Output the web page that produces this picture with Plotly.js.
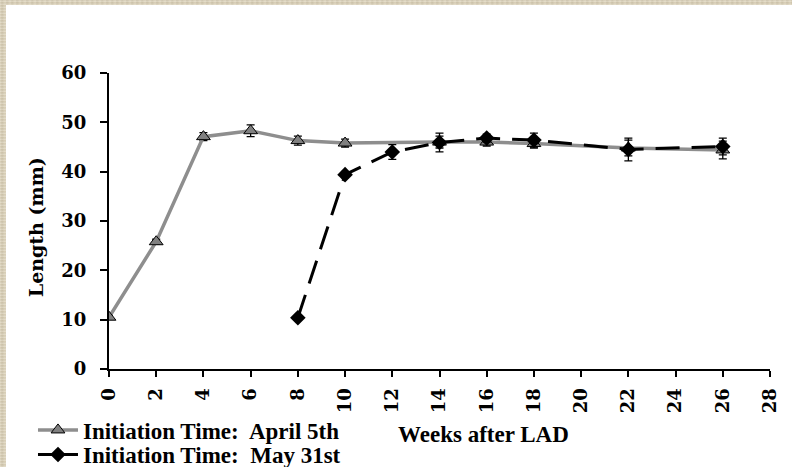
<!DOCTYPE html>
<html>
<head>
<meta charset="utf-8">
<script src="https://cdn.plot.ly/plotly-3.0.1.min.js"></script>
<style>
  html, body { margin: 0; padding: 0; width: 792px; height: 467px; overflow: hidden; }
  body {
    background-color: #dcd1b6;
    background-image:
      repeating-linear-gradient(0deg, rgba(255,255,255,0.18) 0px, rgba(255,255,255,0.18) 1px, rgba(0,0,0,0.05) 2px, rgba(0,0,0,0) 3px),
      repeating-linear-gradient(90deg, rgba(255,255,255,0.15) 0px, rgba(0,0,0,0.06) 2px, rgba(255,255,255,0.1) 5px);
  }
  #chart { position: absolute; left: 6px; top: 5px; width: 786px; height: 462px; background: #ffffff; }
</style>
</head>
<body>
<div id="chart"></div>
<script>
// ---- data ----
var aprilWeeks = [0, 2, 4, 6, 8, 10, 14, 16, 18, 22, 26];
var aprilLength = [10.5, 25.8, 47.1, 48.3, 46.3, 45.8, 46.0, 46.0, 45.7, 44.8, 44.4];
var aprilErr = [0.4, 0.5, 0.8, 1.2, 0.9, 0.8, 1.2, 0.8, 0.9, 1.6, 1.8];

var mayWeeks = [8, 10, 12, 14, 16, 18, 22, 26];
var mayLength = [10.4, 39.4, 44.0, 45.9, 46.8, 46.4, 44.5, 45.1];
var mayErr = [0.4, 0.6, 1.5, 1.9, 0.8, 1.4, 2.3, 1.7];

var seriesNames = ['Initiation Time:  April 5th', 'Initiation Time:  May 31st'];
var xTicks = [0, 2, 4, 6, 8, 10, 12, 14, 16, 18, 20, 22, 24, 26, 28];
var yTicks = [0, 10, 20, 30, 40, 50, 60];

var tickFont = { family: 'DejaVu Serif', size: 18, color: '#000000', weight: 700 };
var labelFont = { family: 'Liberation Serif', size: 23, color: '#000000', weight: 700 };

var traces = [
  {
    x: aprilWeeks, y: aprilLength, name: seriesNames[0], type: 'scatter', mode: 'lines+markers',
    line: { color: '#8e8e8e', width: 3.5 },
    marker: { symbol: 'triangle-up', size: 12, color: '#808080', line: { color: '#000000', width: 1 } },
    error_y: { type: 'data', array: aprilErr, visible: true, color: '#000000', thickness: 1.3, width: 4 },
    showlegend: true, legend: 'legend'
  },
  {
    x: mayWeeks, y: mayLength, name: seriesNames[1], type: 'scatter', mode: 'lines+markers',
    line: { color: '#000000', width: 3, dash: '24px,12px' },
    marker: { symbol: 'diamond', size: 12, color: '#000000' },
    error_y: { type: 'data', array: mayErr, visible: true, color: '#000000', thickness: 1.3, width: 4 },
    showlegend: false
  },
  {
    x: [null], y: [null], name: seriesNames[1], type: 'scatter', mode: 'lines+markers',
    line: { color: '#000000', width: 3 },
    marker: { symbol: 'diamond', size: 12, color: '#000000' },
    showlegend: true, legend: 'legend2', hoverinfo: 'skip'
  }
];

var legendBase = {
  xanchor: 'left', yanchor: 'middle', orientation: 'v', font: labelFont,
  bgcolor: 'rgba(0,0,0,0)', itemwidth: 40, borderwidth: 0
};

var layout = {
  width: 786, height: 462,
  margin: { l: 103, r: 22, t: 68, b: 98, autoexpand: false },
  paper_bgcolor: '#ffffff', plot_bgcolor: '#ffffff',
  showlegend: true,
  legend: Object.assign({}, legendBase, { x: -0.115, y: -0.206 }),
  legend2: Object.assign({}, legendBase, { x: -0.115, y: -0.289 }),
  xaxis: {
    range: [0, 28], tickmode: 'array', tickvals: xTicks, ticktext: xTicks.map(String),
    tickangle: -90, tickfont: tickFont, automargin: false,
    showline: true, linecolor: '#000000', linewidth: 2,
    ticks: 'outside', ticklen: 6, tickwidth: 2, tickcolor: '#000000',
    showgrid: false, zeroline: false, ticklabelstandoff: 4
  },
  yaxis: {
    range: [0, 60], tickmode: 'array', tickvals: yTicks, ticktext: yTicks.map(String),
    tickfont: tickFont, automargin: false,
    showline: true, linecolor: '#000000', linewidth: 2,
    ticks: 'outside', ticklen: 7, tickwidth: 2, tickcolor: '#000000',
    showgrid: false, zeroline: false, ticklabelstandoff: 10
  },
  annotations: [
    { text: 'Length (mm)', xref: 'paper', yref: 'paper', x: -0.11, y: 0.48,
      xanchor: 'center', yanchor: 'middle', textangle: -90, showarrow: false,
      font: { family: 'DejaVu Serif', size: 19, color: '#000000', weight: 700 } },
    { text: 'Weeks after LAD', xref: 'paper', yref: 'paper', x: 0.567, y: -0.22,
      xanchor: 'center', yanchor: 'middle', showarrow: false, font: labelFont }
  ]
};

Plotly.newPlot('chart', traces, layout, { displayModeBar: false, staticPlot: true });
</script>
</body>
</html>
